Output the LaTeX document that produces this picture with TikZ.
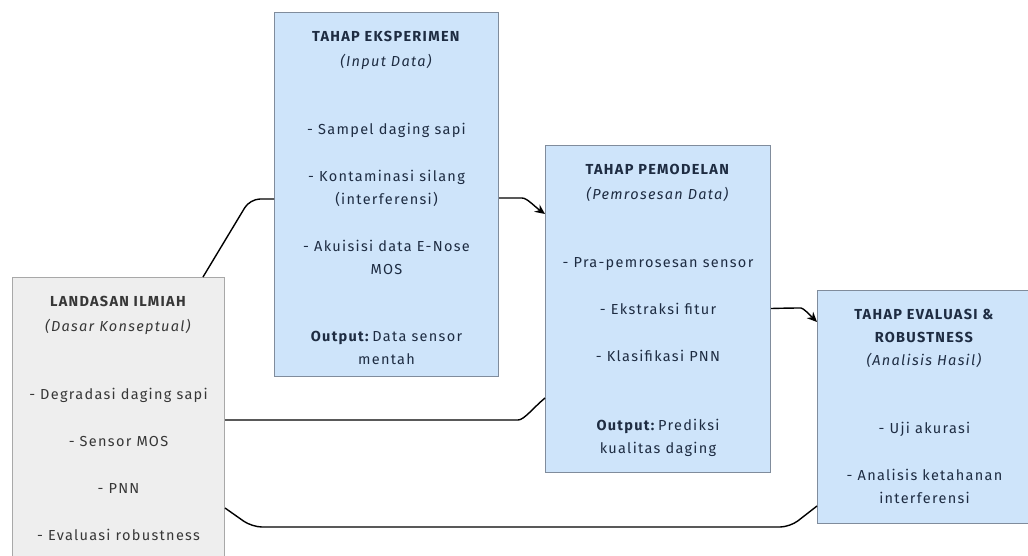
\documentclass[tikz,border=0pt]{standalone}
\usepackage{fontspec}
\setmainfont{Fira Sans}[LetterSpace=9]
\usepackage{tikz}
\newcommand{\textdrop}{19pt}
\definecolor{stageBlue}{RGB}{206,228,250}
\definecolor{stageEdge}{RGB}{128,140,156}
\definecolor{baseGray}{RGB}{238,238,238}
\definecolor{baseEdge}{RGB}{168,168,168}
\definecolor{inkBlue}{RGB}{30,44,66}
\definecolor{inkGray}{RGB}{55,55,55}
\usetikzlibrary{arrows.meta,positioning}
\tikzset{
  >={Stealth[length=10pt,width=9pt]},
  font=\fontsize{14.5}{23}\selectfont,
  stage/.style={draw=stageEdge,fill=stageBlue,shape=rectangle,anchor=north west,inner sep=0,line width=1pt},
  basebox/.style={stage,draw=baseEdge,fill=baseGray},
  boxtext/.style={align=center,inner sep=0,text=inkBlue},
  link/.style={draw,line width=1.4pt,rounded corners=10pt},
}
\begin{document}
\begin{tikzpicture}[x=1pt,y=-1pt]
  \useasboundingbox (0,0) rectangle (1028,555);
  % boxes
  \node (base) [basebox,minimum width=212pt,minimum height=300pt] at (12,277) {};
  \node (expt) [stage,minimum width=224pt,minimum height=364pt] at (274,12) {};
  \node (model) [stage,minimum width=225pt,minimum height=327pt] at (545,145) {};
  \node (eval) [stage,minimum width=214pt,minimum height=233pt] at (817,290) {};
  % texts
  \node (basetext) [boxtext,text=inkGray,below=\textdrop of base.north] {\textbf{LANDASAN ILMIAH}\\[2pt]\textit{(Dasar Konseptual)}\\[45pt]
    - Degradasi daging sapi\\[24pt]- Sensor MOS\\[24pt]- PNN\\[24pt]- Evaluasi robustness};
  \node (expttext) [boxtext,below=\textdrop of expt.north] {\textbf{TAHAP EKSPERIMEN}\\[2pt]\textit{(Input Data)}\\[45pt]
    - Sampel daging sapi\\[24pt]- Kontaminasi silang\\(interferensi)\\[24pt]- Akuisisi data E-Nose\\MOS\\[44pt]
    \textbf{Output:}\,Data sensor\\mentah};
  \node (modeltext) [boxtext,below=\textdrop of model.north] {\textbf{TAHAP PEMODELAN}\\[2pt]\textit{(Pemrosesan Data)}\\[45pt]
    - Pra-pemrosesan sensor\\[24pt]- Ekstraksi fitur\\[24pt]- Klasifikasi PNN\\[46pt]
    \textbf{Output:}\,Prediksi\\kualitas daging};
  \node (evaltext) [boxtext,below=\textdrop of eval.north] {\textbf{TAHAP EVALUASI \&}\\\textbf{ROBUSTNESS}\\\textit{(Analisis Hasil)}\\[45pt]
    - Uji akurasi\\[24pt]- Analisis ketahanan\\interferensi};
  % connectors
  \path [link] ([xshift=-22pt]base.north east) -- (250,199) -- ([yshift=-187pt]expt.north west);
  \path [link,->] ([yshift=-186pt]expt.north east) -- (512,198) .. controls (527,198) and (534,206) .. ([yshift=-69pt]model.north west);
  \path [link] ([yshift=-143pt]base.north east) -- (508,420) .. controls (524,420) and (533,408) .. ([yshift=-253pt]model.north west);
  \path [link,->] ([yshift=-163.5pt]model.north east) -- (791,308) .. controls (803,308) and (809,314) .. ([yshift=-32pt]eval.north west);
  \path [link] ([yshift=-231pt]base.north east) -- (252,527) -- (790,527) -- ([yshift=-216pt]eval.north west);
\end{tikzpicture}
\end{document}
